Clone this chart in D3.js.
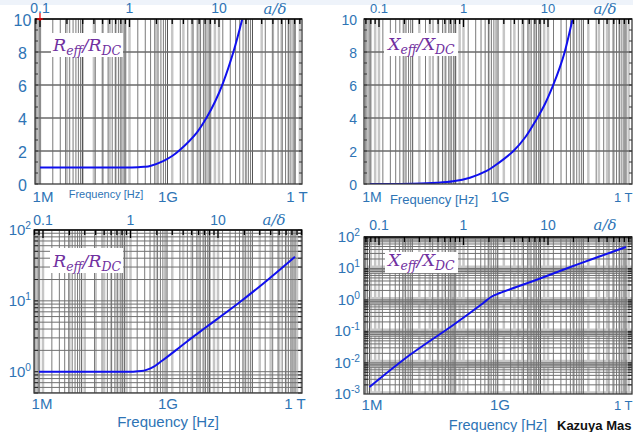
<!DOCTYPE html>
<html><head><meta charset="utf-8">
<script src="https://cdn.jsdelivr.net/npm/d3@7"></script>
<style>html,body{margin:0;padding:0;background:#fff;overflow:hidden}svg{display:block}</style>
</head><body>
<svg id="c" width="633" height="432"></svg>
<script>
// ---------------- data ----------------
const freqTickValues = [1e6, 1e9, 1e12];
const freqTickLabels = ["1M", "1G", "1 T"];
const adTickValues = [0.1, 1, 10];
const adTickLabels = ["0.1", "1", "10"];
const linYTicks = [0, 2, 4, 6, 8, 10];
const logYExpR = [0, 1, 2];
const logYExpX = [-3, -2, -1, 0, 1, 2];

// R_eff/R_DC (linear panel)
const rLinFreq = [1e6, 1e7, 1e8, 2.0e8, 2.8e8, 3.9e8, 7.9e8, 1.26e9, 1.95e9, 4.9e9, 8.3e9, 1.32e10, 2.04e10, 3.55e10, 5.75e10];
const rLinVal  = [1, 1, 1, 1.01, 1.04, 1.09, 1.39, 1.68, 2.06, 3.12, 4.02, 5.0, 6.15, 8.0, 10.0];
// X_eff/X_DC (linear panel)
const xLinFreq = [1e6, 1e7, 3.6e7, 8.9e7, 2.2e8, 5.4e8, 1.0e9, 2.3e9, 4.4e9, 7.9e9, 1.26e10, 1.9e10, 2.8e10, 3.7e10, 5.6e10];
const xLinVal  = [0.002, 0.02, 0.07, 0.16, 0.38, 0.79, 1.25, 2.0, 2.85, 3.9, 4.85, 5.9, 7.05, 8.05, 10.0];
// R_eff/R_DC (log panel)
const rLogFreq = [1e6, 1e7, 1e8, 1.6e8, 2.5e8, 3.3e8, 4.8e8, 6.3e8, 8.1e8, 1.6e9, 2.9e9, 8.5e9, 4.7e10, 2.0e11, 1e12];
const rLogVal  = [1, 1, 1, 1.0, 1.02, 1.06, 1.17, 1.31, 1.46, 2.0, 2.65, 4.3, 9.25, 18.5, 42];
// X_eff/X_DC (log panel)
const xLogFreq = [1e6, 8.9e6, 9.1e7, 4.6e8, 7.1e8, 1.12e9, 6.8e9, 7.1e10, 1e12];
const xLogVal  = [0.0017, 0.018, 0.16, 0.8, 1.26, 1.66, 4.0, 13.2, 48];

// ---------------- layout ----------------
const BLUE = "#2e74b5", PURPLE = "#7030a0", CURVE = "#1010ee";
const svg = d3.select("#c");
svg.append("rect").attr("width",633).attr("height",432).attr("fill","#fff");
svg.append("rect").attr("x",0).attr("y",0).attr("width",633).attr("height",5).attr("fill","#eef3fa");

const panels = [
  {id:"tl", fx:[35,302], fy:[19,184], xr:[40,295], ar:[40,219], ylog:false, yr:[184,19], ydom:[0,10],
   freq:rLinFreq, val:rLinVal, num:"R", sub:"eff", den:"R", dsub:"DC",
   box:[51,33,72,24], tx:53, ty:51, fs:17.5,
   ylx:22.5, ylanchor:"middle", yfs:16, xfs:15, xly:202, tly:13, tfs:14, adx:275, ady:14,
   tl:[43,168,297], flab:{x:106,y:198,fs:11}},
  {id:"tr", fx:[364,632], fy:[19,184], xr:[370,626], ar:[379,548], ylog:false, yr:[184,19], ydom:[0,10],
   freq:xLinFreq, val:xLinVal, num:"X", sub:"eff", den:"X", dsub:"DC",
   box:[384,33,74,23], tx:388, ty:50, fs:17.5,
   ylx:357, ylanchor:"end", yfs:14, xfs:14, xly:202, tly:13, tfs:13, adx:605, ady:14,
   tl:[372,500,null], flab:{x:434,y:204,fs:13}},
  {id:"bl", fx:[34,302], fy:[230,393], xr:[39,295], ar:[43,218], ylog:true, yr:[371.7,230], ydom:[1,100], exps:logYExpR,
   freq:rLogFreq, val:rLogVal, num:"R", sub:"eff", den:"R", dsub:"DC",
   box:[50,248,73,25], tx:53, ty:266.5, fs:17.5,
   ylx:31, ylanchor:"end", yfs:15, xfs:15, xly:409, tly:225, tfs:14, adx:274, ady:225,
   tl:[42,168,295], flab:{x:168,y:427,fs:15}},
  {id:"br", fx:[364,632], fy:[237,394], xr:[369.5,626], ar:[379,548], ylog:true, yr:[394.3,237], ydom:[1e-3,100], exps:logYExpX, bands:true,
   freq:xLogFreq, val:xLogVal, num:"X", sub:"eff", den:"X", dsub:"DC",
   box:[385,252,73,21], tx:388, ty:265.5, fs:17.5,
   ylx:360, ylanchor:"end", yfs:15, xfs:15, xly:410, tly:230, tfs:14, adx:605, ady:230,
   tl:[372,500,null], flab:{x:498,y:430,fs:14.5}}
];

panels.forEach(p => {
  const x = d3.scaleLog().domain([1e6,1e12]).range(p.xr);
  const a = d3.scaleLog().domain([0.1,10]).range(p.ar);
  const y = p.ylog ? d3.scaleLog().domain(p.ydom).range(p.yr) : d3.scaleLinear().domain(p.ydom).range(p.yr);
  const [x0,x1] = p.fx, [y0,y1] = p.fy;
  const g = svg.append("g");
  const clipId = "clip-"+p.id;
  svg.append("clipPath").attr("id",clipId).append("rect").attr("x",x0).attr("y",y0).attr("width",x1-x0).attr("height",y1-y0);
  const gg = g.append("g").attr("clip-path",`url(#${clipId})`);
  gg.append("rect").attr("x",x0).attr("y",y0).attr("width",x1-x0).attr("height",y1-y0).attr("fill","#fff");

  // light a/delta grid
  const aMin = a.invert(x0), aMax = a.invert(x1);
  const aMinor = [];
  for (let n=-3;n<=3;n++) for (let k=1;k<=9;k++){ const v=k*Math.pow(10,n); if (v>aMin && v<aMax) aMinor.push(v); }
  gg.selectAll(".ag").data(aMinor).join("line").attr("x1",d=>a(d)).attr("x2",d=>a(d)).attr("y1",y0).attr("y2",y1)
    .attr("stroke","#c6c6c6").attr("stroke-width",2.5);

  // light horizontal bands (log X panel)
  if (p.bands) {
    const bv = [];
    for (let e=-3;e<=2;e++) bv.push(Math.pow(10,e));
    gg.selectAll(".hb").data(bv).join("line").attr("x1",x0).attr("x2",x1).attr("y1",d=>y(d)).attr("y2",d=>y(d))
      .attr("stroke","#c8c8c8").attr("stroke-width",6);
    gg.selectAll(".hb2").data(bv.map(d=>d*0.8)).join("line").attr("x1",x0).attr("x2",x1).attr("y1",d=>y(d)).attr("y2",d=>y(d))
      .attr("stroke","#d0d0d0").attr("stroke-width",3);
  }

  // frequency grid (dark)
  const fMin = x.invert(x0), fMax = x.invert(x1);
  const fMinor = [];
  for (let n=5;n<=12;n++) for (let k=1;k<=9;k++){ const v=k*Math.pow(10,n); if (v>fMin && v<fMax) fMinor.push(v); }
  gg.selectAll(".fg").data(fMinor).join("line").attr("x1",d=>x(d)).attr("x2",d=>x(d)).attr("y1",y0).attr("y2",y1)
    .attr("stroke",d=>Math.abs(Math.log10(d)%1)<1e-9?"#555":"#7a7a7a").attr("stroke-width",1);

  // horizontal grid
  if (p.ylog) {
    const yMin = y.invert(y1), yMax = y.invert(y0);
    const yMinor = [];
    for (let n=-4;n<=2;n++) for (let k=1;k<=9;k++){ const v=k*Math.pow(10,n); if (v>=yMin*0.999 && v<=yMax*1.001) yMinor.push(v); }
    gg.selectAll(".hg").data(yMinor).join("line").attr("x1",x0).attr("x2",x1).attr("y1",d=>y(d)).attr("y2",d=>y(d))
      .attr("stroke","#707070").attr("stroke-width",1);
    g.selectAll(".lt").data(yMinor).join("line").attr("x1",x0).attr("x2",x0+4).attr("y1",d=>y(d)).attr("y2",d=>y(d))
      .attr("stroke","#222").attr("stroke-width",1);
    g.selectAll(".rt").data(yMinor).join("line").attr("x1",x1-4).attr("x2",x1).attr("y1",d=>y(d)).attr("y2",d=>y(d))
      .attr("stroke","#222").attr("stroke-width",1);
  } else {
    gg.selectAll(".hg").data(linYTicks.filter(d=>d>0 && d<10)).join("line").attr("x1",x0).attr("x2",x1)
      .attr("y1",d=>y(d)).attr("y2",d=>y(d)).attr("stroke","#6a6a6a").attr("stroke-width",1.5);
    const mt = d3.range(0,10.01,2/3);
    g.selectAll(".lt").data(mt).join("line").attr("x1",x0).attr("x2",x0+3).attr("y1",d=>y(d)).attr("y2",d=>y(d))
      .attr("stroke","#333").attr("stroke-width",1);
    g.selectAll(".rt").data(mt).join("line").attr("x1",x1-3).attr("x2",x1).attr("y1",d=>y(d)).attr("y2",d=>y(d))
      .attr("stroke","#333").attr("stroke-width",1);
  }

  // curve
  const pts = p.freq.map((f,i)=>[x(f), y(p.val[i])]);
  gg.append("path").attr("d", d3.line().curve(d3.curveCatmullRom.alpha(0.5))(pts)).attr("fill","none")
    .attr("stroke",CURVE).attr("stroke-width",2);

  // frame
  g.append("rect").attr("x",x0).attr("y",y0).attr("width",x1-x0).attr("height",y1-y0)
    .attr("fill","none").attr("stroke","#3a3a3a").attr("stroke-width",1.3);
  g.append("line").attr("x1",x0).attr("x2",x1).attr("y1",y0).attr("y2",y0).attr("stroke","#111").attr("stroke-width",1.6);

  // top a/delta ticks
  g.selectAll(".at").data(aMinor).join("line").attr("x1",d=>a(d)).attr("x2",d=>a(d)).attr("y1",y0)
    .attr("y2",d=>y0 + (adTickValues.some(t=>Math.abs(t-d)<1e-9)?8:5)).attr("stroke","#000").attr("stroke-width",1.3);

  // formula label box
  g.append("rect").attr("x",p.box[0]).attr("y",p.box[1]).attr("width",p.box[2]).attr("height",p.box[3]).attr("fill","#fff");
  const t = g.append("text").attr("x",p.tx).attr("y",p.ty).attr("font-family","'DejaVu Serif', serif")
    .attr("font-style","italic").attr("font-size",p.fs).attr("fill",PURPLE);
  t.append("tspan").text(p.num);
  t.append("tspan").attr("dy",4).attr("font-size",12.5).text(p.sub);
  t.append("tspan").attr("dy",-4).text("/"+p.den);
  t.append("tspan").attr("dy",4).attr("font-size",12.5).text(p.dsub);

  // y labels
  if (p.ylog) {
    p.exps.forEach(e => {
      const tt = g.append("text").attr("x",p.ylx).attr("y",y(Math.pow(10,e))+5).attr("text-anchor",p.ylanchor)
        .attr("font-family","'Liberation Sans', Arial, sans-serif").attr("font-size",p.yfs).attr("fill",BLUE);
      tt.append("tspan").text("10");
      tt.append("tspan").attr("dy",-6).attr("font-size",p.yfs*0.68).text(String(e));
    });
  } else {
    g.selectAll(".yl").data(linYTicks).join("text").attr("x",p.ylx).attr("y",d=>y(d)+1).attr("dy","0.36em")
      .attr("text-anchor",p.ylanchor).attr("font-family","'Liberation Sans', Arial, sans-serif")
      .attr("font-size",p.yfs).attr("fill",BLUE).text(d=>d);
  }

  // x labels
  freqTickValues.forEach((f,i) => {
    if (p.tl[i] === null) {
      g.append("text").attr("x",632.5).attr("y",p.xly).attr("text-anchor","end").attr("font-family","'Liberation Sans', Arial, sans-serif")
        .attr("font-size",13).attr("fill",BLUE).text(freqTickLabels[i]);
    } else {
      g.append("text").attr("x",p.tl[i]).attr("y",p.xly).attr("text-anchor","middle")
        .attr("font-family","'Liberation Sans', Arial, sans-serif").attr("font-size",p.xfs).attr("fill",BLUE).text(freqTickLabels[i]);
    }
  });
  g.append("text").attr("x",p.flab.x).attr("y",p.flab.y).attr("text-anchor","middle")
    .attr("font-family","'Liberation Sans', Arial, sans-serif").attr("font-size",p.flab.fs).attr("fill",BLUE).text("Frequency [Hz]");

  // top a/delta labels
  adTickValues.forEach((v,i) => {
    g.append("text").attr("x",a(v)).attr("y",p.tly).attr("text-anchor","middle")
      .attr("font-family","'Liberation Sans', Arial, sans-serif").attr("font-size",p.tfs).attr("fill",BLUE).text(adTickLabels[i]);
  });
  g.append("text").attr("x",p.adx).attr("y",p.ady).attr("text-anchor","middle")
    .attr("font-family","'DejaVu Serif', serif").attr("font-style","italic").attr("font-size",15).attr("fill",BLUE).text("a/δ");
});

// red marker at top-left corner of first panel
svg.append("line").attr("x1",40).attr("x2",40).attr("y1",13).attr("y2",21).attr("stroke","#e00").attr("stroke-width",1.2);
svg.append("line").attr("x1",37).attr("x2",43).attr("y1",19).attr("y2",19).attr("stroke","#e00").attr("stroke-width",1.2);

// author credit (cropped)
svg.append("text").attr("x",557).attr("y",430).attr("font-family","'Liberation Sans', Arial, sans-serif")
  .attr("font-weight","bold").attr("font-size",13).attr("fill","#111").text("Kazuya Mas");
</script>
</body></html>
